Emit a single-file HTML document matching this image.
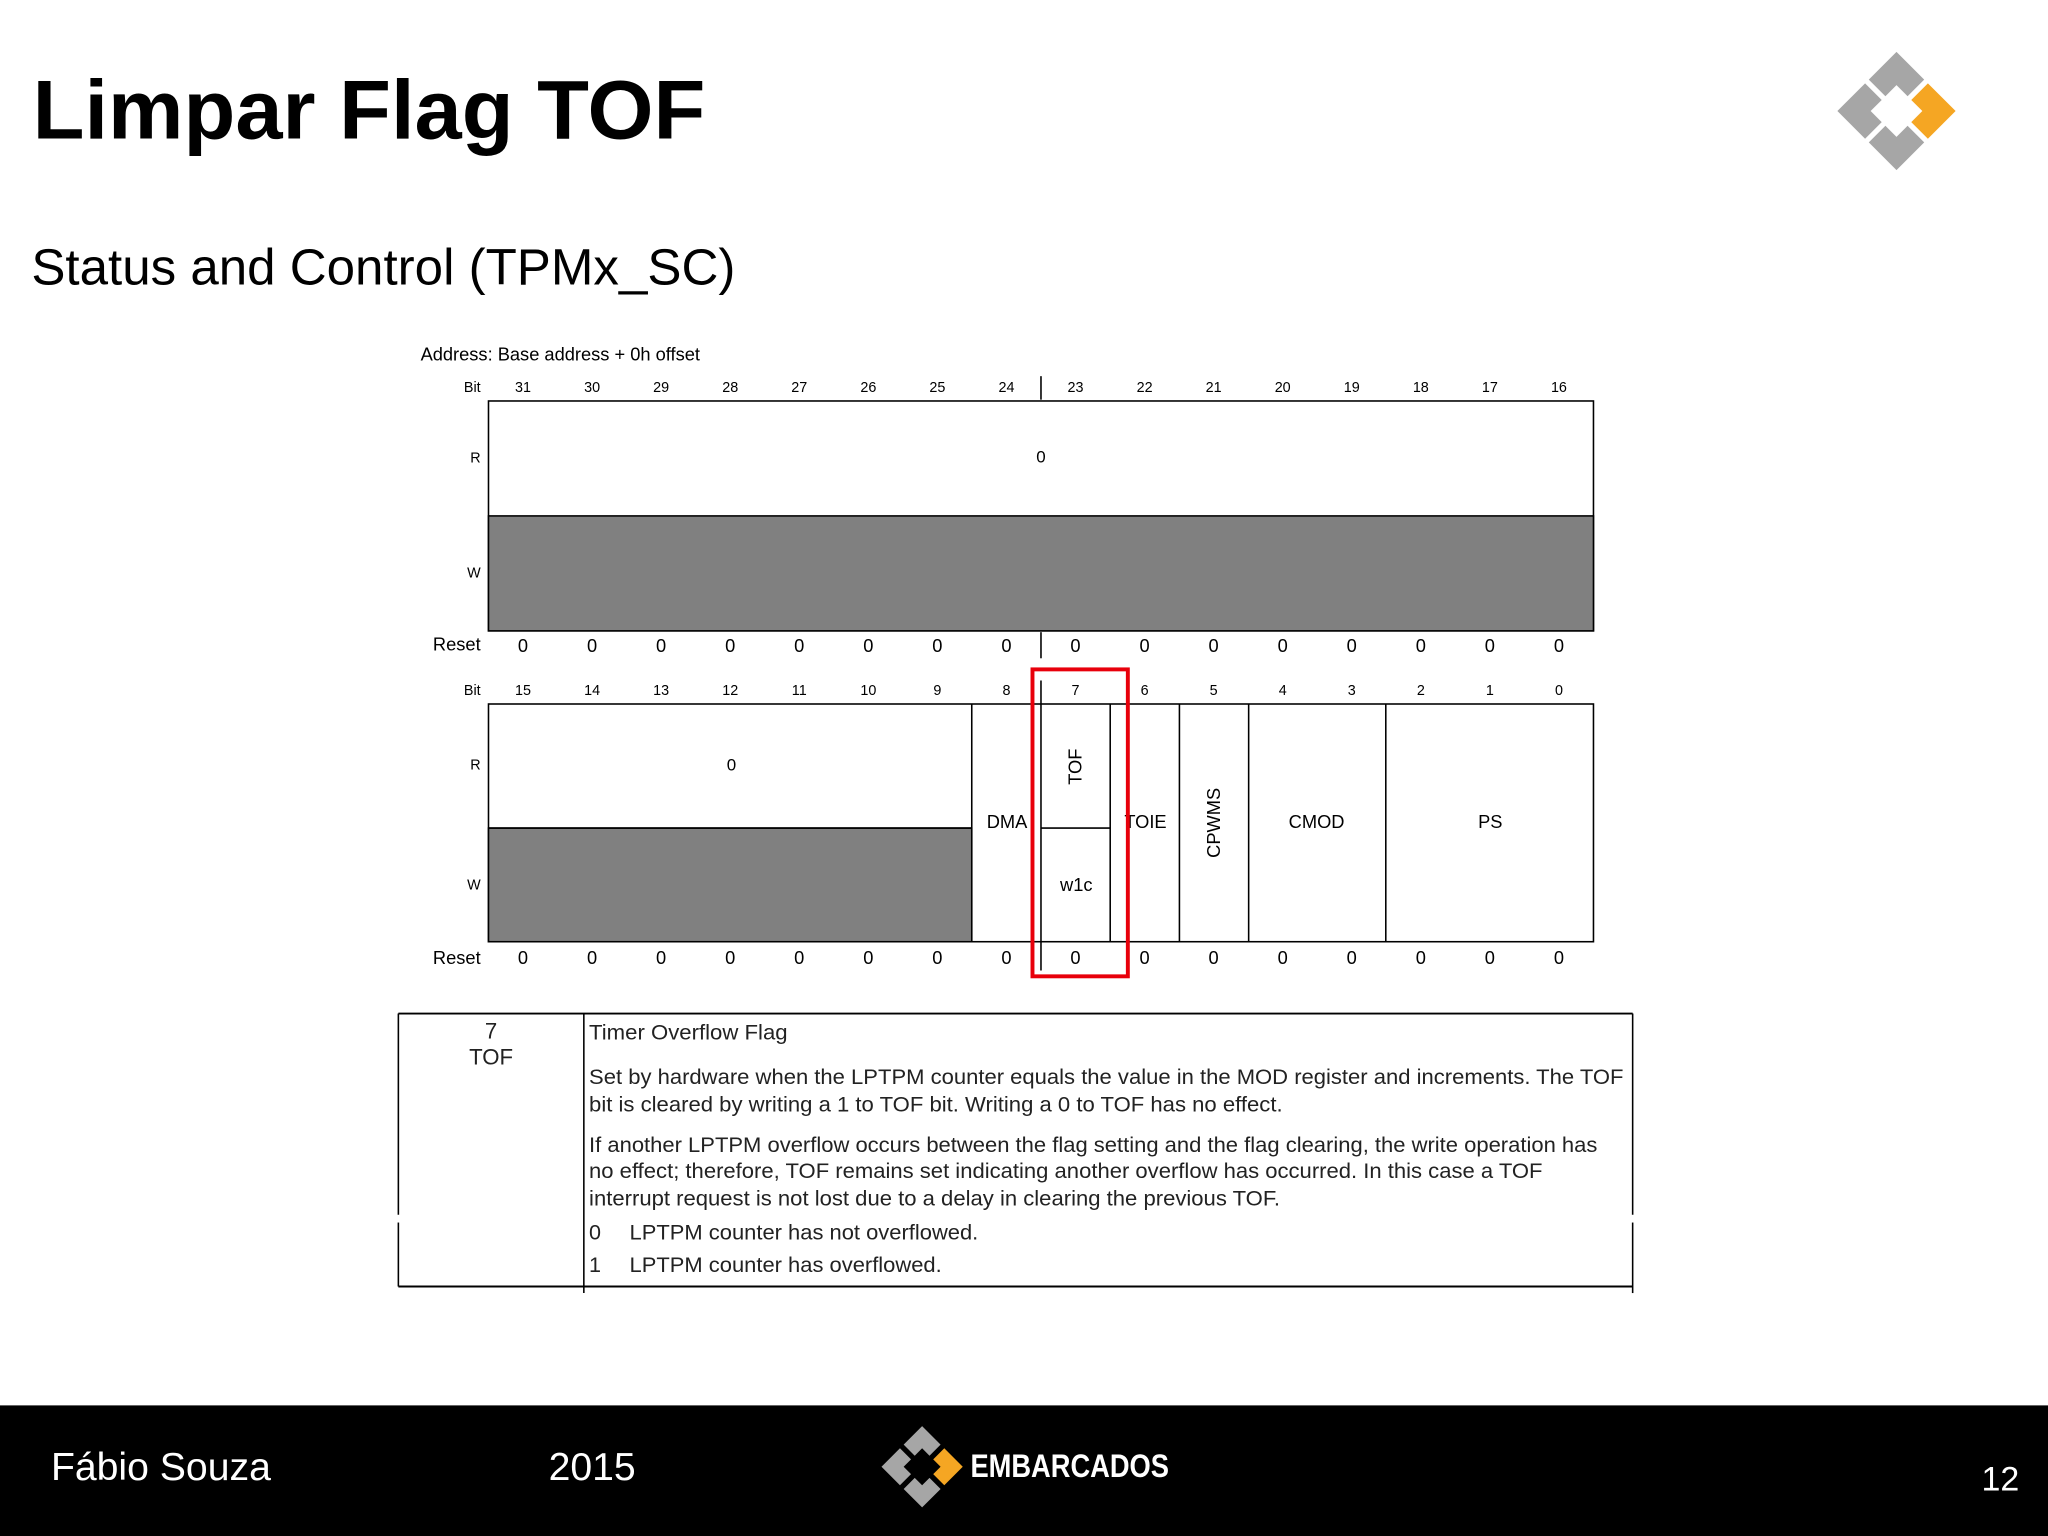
<!DOCTYPE html>
<html><head><meta charset="utf-8"><style>
html,body{margin:0;padding:0;background:#fff}
svg{display:block}
text{font-family:"Liberation Sans",sans-serif}
</style></head><body>
<svg id="s" width="2048" height="1536" viewBox="0 0 1568 1176" xmlns="http://www.w3.org/2000/svg">
<rect width="1568" height="1176" fill="#fff"/>
<text x="25" y="106" font-size="64" font-weight="bold" fill="#000" textLength="515" lengthAdjust="spacingAndGlyphs">Limpar Flag TOF</text>
<text x="24" y="218" font-size="39" fill="#000" textLength="539" lengthAdjust="spacingAndGlyphs">Status and Control (TPMx_SC)</text>
<g transform="translate(1452,85)">
<g transform="rotate(45)">
<path d="M-32,-32 h30 v18 h-12 v12 h-18 z" fill="#a6a6a6"/>
<path d="M2,-32 h30 v30 h-18 v-12 h-12 z" fill="#f5a623"/>
<path d="M-32,2 h18 v12 h12 v18 h-30 z" fill="#a6a6a6"/>
<path d="M14,2 h18 v30 h-30 v-18 h12 z" fill="#a6a6a6"/>
</g></g>
<g id="reg" fill="#000">
<text x="322" y="276" font-size="14">Address: Base address + 0h offset</text>
<rect x="374" y="307" width="846" height="176" fill="#fff" stroke="#000" stroke-width="1.2"/>
<rect x="374" y="395" width="846" height="88" fill="#808080" stroke="#000" stroke-width="1.2"/>
<text x="797" y="354" font-size="13" text-anchor="middle">0</text>
<line x1="797" y1="288" x2="797" y2="306" stroke="#000" stroke-width="1.2"/>
<line x1="797" y1="484" x2="797" y2="504" stroke="#000" stroke-width="1.2"/>
<rect x="374" y="539" width="846" height="182" fill="#fff" stroke="#000" stroke-width="1.2"/>
<rect x="374" y="634" width="370" height="87" fill="#808080" stroke="#000" stroke-width="1.2"/>
<line x1="374" y1="634" x2="744" y2="634" stroke="#000" stroke-width="1.2"/>
<text x="560" y="590" font-size="13" text-anchor="middle">0</text>
<line x1="744" y1="539" x2="744" y2="721" stroke="#000" stroke-width="1.2"/>
<line x1="797" y1="521" x2="797" y2="743" stroke="#000" stroke-width="1.2"/>
<line x1="850" y1="539" x2="850" y2="721" stroke="#000" stroke-width="1.2"/>
<line x1="903" y1="539" x2="903" y2="721" stroke="#000" stroke-width="1.2"/>
<line x1="956" y1="539" x2="956" y2="721" stroke="#000" stroke-width="1.2"/>
<line x1="1061" y1="539" x2="1061" y2="721" stroke="#000" stroke-width="1.2"/>
<line x1="797" y1="634" x2="850" y2="634" stroke="#000" stroke-width="1.2"/>
<text x="771" y="634" font-size="14" text-anchor="middle">DMA</text>
<text transform="translate(828,587) rotate(-90)" font-size="14" text-anchor="middle">TOF</text>
<text x="824" y="682" font-size="14" text-anchor="middle">w1c</text>
<text x="877" y="634" font-size="14" text-anchor="middle">TOIE</text>
<text transform="translate(934,630) rotate(-90)" font-size="14" text-anchor="middle">CPWMS</text>
<text x="1008" y="634" font-size="14" text-anchor="middle">CMOD</text>
<text x="1141" y="634" font-size="14" text-anchor="middle">PS</text>
<text x="368" y="300" font-size="11" text-anchor="end">Bit</text>
<text x="368" y="354" font-size="11" text-anchor="end">R</text>
<text x="368" y="442" font-size="11" text-anchor="end">W</text>
<text x="368" y="498" font-size="14" text-anchor="end">Reset</text>
<text x="368" y="532" font-size="11" text-anchor="end">Bit</text>
<text x="368" y="589" font-size="11" text-anchor="end">R</text>
<text x="368" y="681" font-size="11" text-anchor="end">W</text>
<text x="368" y="738" font-size="14" text-anchor="end">Reset</text>
<rect x="790.5" y="512.5" width="73" height="235" fill="none" stroke="#e8000b" stroke-width="3"/>
</g>
<g fill="#222" font-size="16.5">
<line x1="305" y1="776" x2="1250" y2="776" stroke="#000" stroke-width="1.5"/>
<line x1="305" y1="985" x2="1250" y2="985" stroke="#000" stroke-width="1.5"/>
<line x1="305" y1="776" x2="305" y2="930" stroke="#000" stroke-width="1.2"/>
<line x1="305" y1="936" x2="305" y2="985" stroke="#000" stroke-width="1.2"/>
<line x1="447" y1="776" x2="447" y2="990" stroke="#000" stroke-width="1.2"/>
<line x1="1250" y1="776" x2="1250" y2="930" stroke="#000" stroke-width="1.2"/>
<line x1="1250" y1="936" x2="1250" y2="990" stroke="#000" stroke-width="1.2"/>
<text x="376" y="795" text-anchor="middle" font-size="17">7</text>
<text x="376" y="815" text-anchor="middle" font-size="17">TOF</text>
<text x="451" y="796" textLength="152" lengthAdjust="spacingAndGlyphs">Timer Overflow Flag</text>
<text x="451" y="830" textLength="792" lengthAdjust="spacingAndGlyphs">Set by hardware when the LPTPM counter equals the value in the MOD register and increments. The TOF</text>
<text x="451" y="851" textLength="531" lengthAdjust="spacingAndGlyphs">bit is cleared by writing a 1 to TOF bit. Writing a 0 to TOF has no effect.</text>
<text x="451" y="882" textLength="772" lengthAdjust="spacingAndGlyphs">If another LPTPM overflow occurs between the flag setting and the flag clearing, the write operation has</text>
<text x="451" y="902" textLength="730" lengthAdjust="spacingAndGlyphs">no effect; therefore, TOF remains set indicating another overflow has occurred. In this case a TOF</text>
<text x="451" y="923" textLength="529" lengthAdjust="spacingAndGlyphs">interrupt request is not lost due to a delay in clearing the previous TOF.</text>
<text x="451" y="949">0</text><text x="482" y="949" textLength="267" lengthAdjust="spacingAndGlyphs">LPTPM counter has not overflowed.</text>
<text x="451" y="974">1</text><text x="482" y="974" textLength="239" lengthAdjust="spacingAndGlyphs">LPTPM counter has overflowed.</text>
</g>
<rect x="0" y="1076" width="1568" height="100" fill="#000"/>
<text x="39" y="1133" font-size="30" fill="#fff">Fábio Souza</text>
<text x="420" y="1133" font-size="30" fill="#fff">2015</text>
<text x="1546" y="1141" font-size="26" fill="#fff" text-anchor="end">12</text>
<g>
<g transform="translate(706,1123) rotate(45)">
<path d="M-22,-22 h20 v12 h-8 v8 h-12 z" fill="#a6a6a6"/>
<path d="M2,-22 h20 v20 h-12 v-8 h-8 z" fill="#f5a623"/>
<path d="M-22,2 h12 v8 h8 v12 h-20 z" fill="#a6a6a6"/>
<path d="M10,2 h12 v20 h-20 v-12 h8 z" fill="#a6a6a6"/>
</g>
<text x="743" y="1131" font-size="25" font-weight="bold" fill="#fff" textLength="152" lengthAdjust="spacingAndGlyphs">EMBARCADOS</text>
</g>
</svg>
<script>
const upperBits = ["31","30","29","28","27","26","25","24","23","22","21","20","19","18","17","16"];
const lowerBits = ["15","14","13","12","11","10","9","8","7","6","5","4","3","2","1","0"];
const upperReset = [0,0,0,0,0,0,0,0,0,0,0,0,0,0,0,0];
const lowerReset = [0,0,0,0,0,0,0,0,0,0,0,0,0,0,0,0];
const NS="http://www.w3.org/2000/svg";
const reg=document.getElementById('reg');
function colX(i){return 374+(i+0.5)*(846/16);}
function addText(x,y,s,size,name){
  const t=document.createElementNS(NS,'text');
  t.setAttribute('x',x);t.setAttribute('y',y);t.setAttribute('font-size',size);
  t.setAttribute('text-anchor','middle');t.textContent=s;
  
  
  reg.appendChild(t);
}
upperBits.forEach((b,i)=>addText(colX(i),300,b,11,'bit-label'));
lowerBits.forEach((b,i)=>addText(colX(i),532,b,11,'bit-label'));
upperReset.forEach((v,i)=>addText(colX(i),499,String(v),14,'reset-value'));
lowerReset.forEach((v,i)=>addText(colX(i),738,String(v),14,'reset-value'));
</script>
</body></html>
